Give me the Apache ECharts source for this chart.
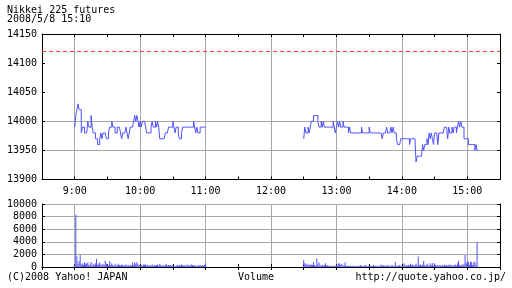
<!DOCTYPE html>
<html>
<head>
<meta charset="utf-8">
<script src="https://cdn.jsdelivr.net/npm/echarts@6/dist/echarts.min.js"></script>
<style>
  html, body { margin: 0; background: #fff; }
  #chart { width: 512px; height: 288px; }
</style>
</head>
<body>
<div id="chart"></div>
<script>
// minutes since midnight
const amStart = 540;   // 9:00
const pmStart = 750;   // 12:30
const timeMin = 510;   // 8:30
const timeMax = 930;   // 15:30

// one value per minute
const amPrice = [
  13990, 14010, 14020, 14030, 14020, 14020, 13980, 13990, 13990, 13980,
  13980, 13980, 14000, 13990, 13990, 14010, 13990, 13980, 13980, 13970,
  13970, 13960, 13960, 13970, 13980, 13970, 13980, 13980, 13980, 13970,
  13970, 13980, 13990, 13990, 14000, 13990, 13990, 13980, 13980, 13990,
  13990, 13990, 13980, 13970, 13980, 13980, 13980, 13990, 13980, 13970,
  13980, 13990, 13990, 13990, 14000, 14010, 14000, 14010, 14000, 13990,
  14000, 13990, 14000, 14000, 14000, 13990, 13980, 13980, 13980, 13980,
  13990, 14000, 13990, 13990, 14000, 13990, 14000, 13990, 13970, 13970,
  13970, 13970, 13970, 13980, 13980, 13980, 13990, 13990, 13990, 13990,
  14000, 13990, 13980, 13990, 13990, 13980, 13970, 13970, 13980, 13990,
  13990, 13990, 13990, 13990, 13990, 13990, 13990, 13990, 13990, 14000,
  13990, 13980, 13990, 13980, 13980, 13990, 13990, 13990, 13990, 13990,
  13990
];
const pmPrice = [
  13970, 13990, 13980, 13980, 13990, 13980, 13990, 14000, 14000, 14010,
  14010, 14010, 14010, 14000, 13990, 13990, 14000, 13990, 14000, 13990,
  13990, 13990, 13990, 13990, 13990, 13990, 13990, 14000, 13990, 13980,
  13990, 14000, 13990, 14000, 13990, 13990, 14000, 13990, 13990, 13990,
  13990, 13980, 13990, 13980, 13980, 13980, 13980, 13980, 13980, 13980,
  13980, 13980, 13980, 13990, 13980, 13980, 13980, 13980, 13980, 13980,
  13990, 13980, 13980, 13980, 13980, 13980, 13980, 13980, 13980, 13980,
  13980, 13980, 13970, 13980, 13980, 13980, 13990, 13980, 13980, 13980,
  13990, 13980, 13990, 13980, 13980, 13970, 13960, 13960, 13960, 13970,
  13970, 13970, 13970, 13970, 13970, 13970, 13970, 13960, 13970, 13970,
  13970, 13970, 13970, 13930, 13940, 13940, 13940, 13940, 13940, 13960,
  13950, 13960, 13960, 13970, 13960, 13980, 13970, 13980, 13970, 13960,
  13980, 13980, 13980, 13960, 13980, 13980, 13980, 13980, 13980, 13990,
  13990, 13990, 13970, 13990, 13980, 13980, 13990, 13980, 13990, 13990,
  13980, 13990, 14000, 13990, 14000, 13990, 13990, 13970, 13970, 13970,
  13970, 13960, 13960, 13960, 13960, 13960, 13960, 13950, 13960, 13950,
  13950
];
const amVolume = [
  400, 8300, 1700, 500, 900, 1900, 400, 600, 300, 700,
  600, 500, 700, 300, 400, 800, 200, 500, 300, 600,
  1300, 300, 500, 700, 400, 300, 500, 300, 1000, 500,
  400, 200, 900, 300, 600, 300, 200, 500, 200, 300,
  500, 300, 200, 400, 300, 200, 300, 400, 200, 300,
  200, 300, 200, 700, 300, 700, 500, 800, 400, 300,
  400, 300, 200, 400, 300, 500, 200, 300, 200, 300,
  200, 400, 200, 300, 200, 300, 400, 200, 500, 300,
  200, 300, 200, 300, 500, 200, 300, 200, 300, 200,
  300, 200, 100, 200, 300, 200, 300, 200, 400, 300,
  200, 300, 200, 400, 200, 300, 200, 400, 300, 200,
  300, 200, 100, 300, 200, 300, 200, 300, 200, 300,
  600
];
const pmVolume = [
  1100, 600, 400, 500, 300, 400, 300, 400, 300, 800,
  300, 200, 1300, 400, 700, 300, 200, 300, 200, 300,
  600, 200, 300, 200, 100, 200, 100, 200, 100, 200,
  300, 200, 600, 500, 300, 500, 200, 300, 700, 200,
  100, 200, 100, 200, 100, 200, 100, 200, 100, 200,
  100, 200, 300, 100, 200, 100, 200, 300, 100, 200,
  100, 200, 100, 200, 300, 100, 200, 100, 200, 100,
  200, 400, 200, 300, 200, 100, 200, 300, 200, 100,
  200, 300, 200, 100, 750, 200, 100, 200, 300, 200,
  100, 200, 600, 200, 300, 200, 300, 200, 500, 300,
  400, 200, 300, 500, 200, 1650, 300, 400, 200, 300,
  950, 300, 200, 500, 300, 200, 600, 300, 600, 200,
  600, 300, 200, 300, 200, 300, 200, 300, 200, 400,
  200, 300, 200, 300, 400, 200, 300, 200, 300, 400,
  200, 600, 1000, 300, 200, 400, 300, 500, 1900, 600,
  900, 850, 300, 850, 800, 300, 700, 850, 300, 3900
];
const prevClose = 14120;
const priceMin = 13900, priceMax = 14150, priceStep = 50;
const volMax = 10000, volStep = 2000;

const blue = '#5050ff';
const grey = '#a8a8a8';
const red = '#ff3333';
const font = 'DejaVu Sans Mono';

const toPairs = (start, arr) => arr.map((v, i) => [start + i, v]);
const hourLabel = v => (v % 60 === 0 ? (v / 60) + ':00' : '');
const plain = v => String(v);
// grey split lines on the hours only (ticks every 30 min starting at 8:30)
const hourGrid = { show: true, lineStyle: { color: ['rgba(0,0,0,0)', grey], width: 1 } };

function xAx(gridIndex, position, extra) {
  return Object.assign({
    gridIndex, type: 'value', position, min: timeMin, max: timeMax, interval: 30,
    axisLine: { show: true, lineStyle: { color: '#000', width: 1 } },
    axisTick: { show: true, inside: true, length: 3, lineStyle: { color: '#000' } },
    axisLabel: { show: false },
    splitLine: { show: false }
  }, extra);
}
function yAx(gridIndex, position, min, max, interval, extra) {
  return Object.assign({
    gridIndex, type: 'value', position, min, max, interval,
    axisLine: { show: true, lineStyle: { color: '#000', width: 1 } },
    axisTick: { show: true, inside: true, length: 3, lineStyle: { color: '#000' } },
    axisLabel: { show: false },
    splitLine: { show: false }
  }, extra);
}

const chart = echarts.init(document.getElementById('chart'));
const txt = { fontFamily: font, fontSize: 10, color: '#000', fontWeight: 'normal' };
const lbl = { show: true, margin: 5, fontFamily: font, fontSize: 10, color: '#000', formatter: plain };

chart.setOption({
  animation: false,
  title: [
    { text: 'Nikkei 225 futures\n2008/5/8 15:10', left: 7, top: 6, padding: 0,
      textStyle: Object.assign({}, txt, { lineHeight: 9 }) },
    { text: '(C)2008 Yahoo! JAPAN', left: 7, top: 272, padding: 0, textStyle: txt },
    { text: 'Volume', left: 238, top: 272, padding: 0, textStyle: txt },
    { text: 'http://quote.yahoo.co.jp/', right: 6, top: 272, padding: 0, textStyle: txt }
  ],
  grid: [
    { left: 42, top: 34, width: 458, height: 145.5 },
    { left: 42, top: 204, width: 458, height: 63 }
  ],
  xAxis: [
    xAx(0, 'bottom', {
      axisLabel: { show: true, formatter: hourLabel, margin: 7, fontFamily: font, fontSize: 10, color: '#000' },
      splitLine: hourGrid
    }),
    xAx(0, 'top'),
    xAx(1, 'bottom', { splitLine: hourGrid }),
    xAx(1, 'top')
  ],
  yAxis: [
    yAx(0, 'left', priceMin, priceMax, priceStep, {
      axisLabel: lbl,
      // grid lines only at 13950 and 14000
      splitLine: { show: true, lineStyle: { color: ['rgba(0,0,0,0)', grey, grey, 'rgba(0,0,0,0)', 'rgba(0,0,0,0)', 'rgba(0,0,0,0)'] } }
    }),
    yAx(0, 'right', priceMin, priceMax, priceStep),
    yAx(1, 'left', 0, volMax, volStep, {
      axisLabel: lbl,
      splitLine: { show: true, lineStyle: { color: grey } }
    }),
    yAx(1, 'right', 0, volMax, volStep)
  ],
  series: [
    {
      name: 'am', type: 'line', xAxisIndex: 0, yAxisIndex: 0, step: 'end',
      data: toPairs(amStart, amPrice), showSymbol: false, silent: true,
      lineStyle: { color: blue, width: 1 }, itemStyle: { color: blue }
    },
    {
      name: 'pm', type: 'line', xAxisIndex: 0, yAxisIndex: 0, step: 'end',
      data: toPairs(pmStart, pmPrice), showSymbol: false, silent: true,
      lineStyle: { color: blue, width: 1 }, itemStyle: { color: blue }
    },
    {
      name: 'prevClose', type: 'line', xAxisIndex: 0, yAxisIndex: 0,
      data: [[timeMin, prevClose], [timeMax, prevClose]], showSymbol: false, silent: true,
      lineStyle: { color: red, width: 1, type: [4, 3] }, itemStyle: { color: red }
    },
    {
      name: 'volume', type: 'bar', xAxisIndex: 2, yAxisIndex: 2, barWidth: 1, silent: true,
      data: toPairs(amStart, amVolume).concat(toPairs(pmStart, pmVolume)),
      itemStyle: { color: blue }
    }
  ]
});
</script>
</body>
</html>
